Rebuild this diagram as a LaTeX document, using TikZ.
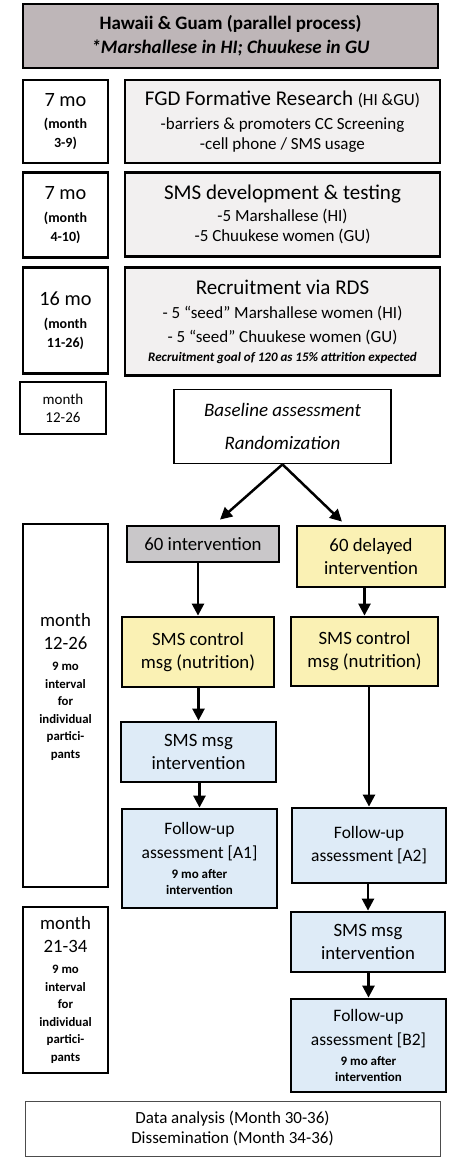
\documentclass[tikz,border=0pt]{standalone}
\usepackage{fontspec}
\setmainfont{Carlito}
\usetikzlibrary{arrows.meta,calc}

\definecolor{headgray}{RGB}{190,182,184}
\definecolor{phasegray}{RGB}{242,240,240}
\definecolor{armgray}{RGB}{201,199,201}
\definecolor{armyellow}{RGB}{250,241,180}
\definecolor{armblue}{RGB}{222,235,247}

\tikzset{
	box/.style={draw, line width=2.8pt, align=center, inner sep=1pt},
	phase/.style={box, fill=phasegray},
	timebox/.style={box, fill=white},
	yellowbox/.style={box, fill=armyellow},
	bluebox/.style={box, fill=armblue},
	arr/.style={-{Triangle[width=12pt,length=12pt]}, line width=2.5pt},
	bigtext/.style={font={\fontsize{18.8pt}{23}\selectfont}},
	midtext/.style={font={\fontsize{17.5pt}{23}\selectfont}},
	smalltext/.style={font={\fontsize{12.8pt}{17.5}\selectfont\bfseries}}
}
\newcommand{\durfont}{\fontsize{20.3pt}{24}\selectfont\mdseries}
\newcommand{\timebig}{\fontsize{18.8pt}{23}\selectfont\mdseries}
\newcommand{\phasetitle}{\fontsize{21pt}{24}\selectfont}
\newcommand{\fubig}{\fontsize{17.5pt}{21}\selectfont\mdseries}
\newcommand{\tinyline}{\fontsize{13pt}{15}\selectfont\bfseries\itshape}

\begin{document}
\begin{tikzpicture}[x=1pt,y=-1pt]
	\useasboundingbox[fill=white] (0,0) rectangle (474,1166);

	% header
	\node (head) [box, fill=headgray, minimum width=415pt, minimum height=64pt,
		font={\fontsize{19pt}{24}\selectfont\bfseries}] at (230.5,36)
		{Hawaii \& Guam (parallel process)\\ \itshape *Marshallese in HI; Chuukese in GU};

	% formative phases
	\node (fgdtime) [timebox, font={\fontsize{14pt}{19}\selectfont\bfseries},
		minimum width=85pt, minimum height=83pt] at (65.5,121.5)
		{\durfont 7 mo\\[3.5pt] (month\\ 3-9)};
	\node (fgd) [phase, font={\fontsize{17pt}{19.5}\selectfont},
		minimum width=315pt, minimum height=83pt] at (282.5,121.5)
		{\phasetitle FGD Formative Research {\fontsize{17pt}{19}\selectfont (HI \&GU)}\\[4.5pt]
		-barriers \& promoters CC Screening\\ -cell phone / SMS usage};

	\node (smstime) [timebox, font={\fontsize{14pt}{19}\selectfont\bfseries},
		minimum width=85pt, minimum height=85pt] at (65.5,215)
		{\durfont 7 mo\\[3.5pt] (month\\ 4-10)};
	\node (smsdev) [phase, font={\fontsize{17pt}{20}\selectfont},
		minimum width=315pt, minimum height=84pt] at (282.5,214.5)
		{\phasetitle SMS development \& testing\\[2pt]
		-5 Marshallese (HI)\\ -5 Chuukese women (GU)};

	\node (rdstime) [timebox, font={\fontsize{14pt}{19}\selectfont\bfseries},
		minimum width=85pt, minimum height=106pt] at (65.5,320.5)
		{\durfont 16 mo\\[3.5pt] (month\\ 11-26)};
	\node (rds) [phase, font={\fontsize{17pt}{24}\selectfont},
		minimum width=315pt, minimum height=108pt] at (282.5,321.5)
		{\phasetitle Recruitment via RDS\\
		- 5 “seed” Marshallese women (HI)\\ - 5 “seed” Chuukese women (GU)\\[-5pt]
		\tinyline Recruitment goal of 120 as 15\% attrition expected};

	\node (basetime) [timebox, font={\fontsize{15pt}{18}\selectfont},
		minimum width=86pt, minimum height=52pt] at (63,408)
		{month\\ 12-26};
	\node (baseline) [draw, line width=1.8pt, fill=white, align=center, minimum width=217pt,
		minimum height=74pt, font={\fontsize{19pt}{33}\selectfont\itshape}] at (282.5,426.5)
		{Baseline assessment\\ Randomization};

	% timeline at the left
	\node (armtime) [timebox, minimum width=85pt, minimum height=363pt] at (65.5,705.5) {};
	\node (armtimetxt) [align=center, smalltext] at (65.5,687)
		{\timebig month\\[5.5pt] \timebig 12-26\\[3.5pt] 9 mo\\ interval\\ for\\
		individual\\ partici-\\ pants};
	\node (delaytime) [timebox, smalltext, minimum width=85pt, minimum height=166pt] at (65.5,990)
		{\timebig month\\[5.5pt] \timebig 21-34\\[3.5pt] 9 mo\\ interval\\ for\\
		individual\\ partici-\\ pants};

	% intervention arm
	\node (int) [box, fill=armgray, bigtext, minimum width=152pt, minimum height=36pt] at (203,544)
		{60 intervention};
	\node (ctrlA) [yellowbox, bigtext, minimum width=152pt, minimum height=70pt] at (198,652)
		{SMS control\\ msg (nutrition)};
	\node (msgA) [bluebox, bigtext, minimum width=155pt, minimum height=60pt] at (198.5,752)
		{SMS msg\\ intervention};
	\node (fuA1) [bluebox, font={\fontsize{13pt}{16}\selectfont\bfseries},
		minimum width=155pt, minimum height=99pt] at (199.5,858.5)
		{\fubig Follow-up\\[8pt] \fubig assessment [A1]\\[3.5pt] 9 mo after\\ intervention};

	% delayed arm
	\node (delay) [yellowbox, bigtext, minimum width=148pt, minimum height=61pt] at (371,556.5)
		{60 delayed\\ intervention};
	\node (ctrlB) [yellowbox, bigtext, minimum width=147pt, minimum height=69pt] at (364.5,651.5)
		{SMS control\\ msg (nutrition)};
	\node (fuA2) [bluebox, midtext, minimum width=154pt, minimum height=75pt] at (369,845.5)
		{Follow-up\\ assessment [A2]};
	\node (msgB) [bluebox, bigtext, minimum width=154pt, minimum height=60pt] at (368,942)
		{SMS msg\\ intervention};
	\node (fuB2) [bluebox, font={\fontsize{13pt}{16}\selectfont\bfseries},
		minimum width=155pt, minimum height=93pt] at (368.5,1045.5)
		{\fubig Follow-up\\[8pt] \fubig assessment [B2]\\[3.5pt] 9 mo after\\ intervention};

	% closing phase
	\node (final) [draw=black!70, line width=0.8pt, align=center, minimum width=415pt,
		minimum height=55pt, font={\fontsize{17pt}{20}\selectfont}] at (232.5,1128.5)
		{Data analysis (Month 30-36)\\ Dissemination (Month 34-36)};

	% arrows
	\draw[arr] (baseline.south) -- ([xshift=17pt,yshift=5pt]int.north);
	\draw[arr] (baseline.south) -- ([xshift=-29pt,yshift=3pt]delay.north);
	\draw[arr] (ctrlA.north |- int.south) -- (ctrlA.north);
	\draw[arr] (msgA.north |- ctrlA.south) -- (msgA.north);
	\draw[arr] (fuA1.north |- msgA.south) -- (fuA1.north);
	\draw[arr] (ctrlB.north |- delay.south) -- (ctrlB.north);
	\draw[arr] (fuA2.north |- ctrlB.south) -- (fuA2.north);
	\draw[arr] (msgB.north |- fuA2.south) -- (msgB.north);
	\draw[arr] (fuB2.north |- msgB.south) -- (fuB2.north);
\end{tikzpicture}
\end{document}
